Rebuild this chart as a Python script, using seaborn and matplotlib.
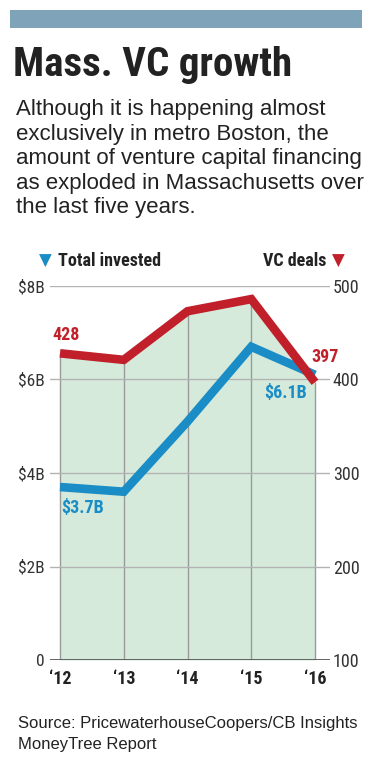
import matplotlib.pyplot as plt
import matplotlib.patches as mpatches
import seaborn as sns
import pandas as pd
import numpy as np

# data
years = ["\u201812", "\u201813", "\u201814", "\u201815", "\u201816"]
invested = [3.7, 3.6, 5.1, 6.7, 6.1]      # $B, left axis
deals = [428, 421, 473, 486, 397]         # count, right axis
left_ticks = [0, 2, 4, 6, 8]
left_labels = ["0", "$2B", "$4B", "$6B", "$8B"]
right_ticks = [100, 200, 300, 400, 500]

blue = "#1a8cc6"
red = "#c1202a"
dark = "#222222"
narrow = ["Roboto Condensed", "Fira Sans Condensed", "DejaVu Sans"]

sns.set_style("white")
plt.rcParams["font.family"] = ["Liberation Sans", "DejaVu Sans"]

W, H = 379, 768
fig = plt.figure(figsize=(W / 100, H / 100), dpi=100)


def box(x0, y0, x1, y1):
    return [x0 / W, 1 - y1 / H, (x1 - x0) / W, (y1 - y0) / H]


def fy(y):
    return 1 - y / H


# top bar
fig.add_artist(mpatches.Rectangle((10 / W, fy(28)), 352 / W, 18 / H,
                                  transform=fig.transFigure, color="#7fa3b8", lw=0))

fig.text(13 / W, fy(76), "Mass. VC growth", family=narrow, weight="bold",
         fontsize=29.5, color=dark, va="baseline")
sub = ["Although it is happening almost",
       "exclusively in metro Boston, the",
       "amount of venture capital financing",
       "as exploded in Massachusetts over",
       "the last five years."]
for i, line in enumerate(sub):
    fig.text(16 / W, fy(115 + i * 24.6), line, fontsize=16, color=dark, va="baseline")

# legend row
fig.text(45 / W, fy(266), "\u25bc", color=blue, fontsize=12, ha="center", va="baseline",
         family=["DejaVu Sans"])
fig.text(58 / W, fy(266), "Total invested", family=narrow, weight="bold",
         fontsize=13, color=dark, va="baseline")
fig.text(326 / W, fy(266), "VC deals", family=narrow, weight="bold",
         fontsize=13, color=dark, va="baseline", ha="right")
fig.text(338 / W, fy(266), "\u25bc", color=red, fontsize=12, ha="center", va="baseline",
         family=["DejaVu Sans"])

ax = fig.add_axes(box(50, 286, 330, 660))
ax2 = ax.twinx()

df = pd.DataFrame({"year": np.arange(len(years)), "invested": invested, "deals": deals})
# deals expressed in left-axis units (100..500 -> 0..8)
df["deals_left"] = (df["deals"] - 100) / 50

ax.fill_between(df["year"], 0, df["deals_left"], color="#d5eadb", lw=0, zorder=1)
ax.vlines(df["year"], 0, df["deals_left"], color="#9a9a9a", lw=1, zorder=1.5)
for t in left_ticks[1:]:
    ax.axhline(t, color="#b3b3b3", lw=1, zorder=2)
ax.axhline(0, color="#555555", lw=2, zorder=3)

sns.lineplot(data=df, x="year", y="invested", ax=ax, color=blue, lw=6.2, zorder=4)
sns.lineplot(data=df, x="year", y="deals_left", ax=ax, color=red, lw=6.2, zorder=5)
for ln in ax.lines[-2:]:
    ln.set_solid_joinstyle("miter")
    ln.set_solid_capstyle("butt")

step = 255 / 4
ax.set_xlim(-10 / step, 4 + 15 / step)
ax.set_ylim(0, 8)
ax2.set_ylim(100, 500)

ax.set_xticks(df["year"], years)
ax.set_yticks(left_ticks, left_labels)
ax2.set_yticks(right_ticks, [str(t) for t in right_ticks])
ax.set_xlabel("")
ax.set_ylabel("")
ax.tick_params(axis="x", length=0, pad=7, labelsize=13, labelcolor=dark)
ax.tick_params(axis="y", length=0, pad=4, labelsize=12.5, labelcolor="#333333")
ax2.tick_params(axis="y", length=0, pad=2, labelsize=13, labelcolor="#333333")
for lab in ax.get_xticklabels():
    lab.set_family(narrow)
    lab.set_weight("bold")
for lab in ax.get_yticklabels() + ax2.get_yticklabels():
    lab.set_family(narrow)
for a in (ax, ax2):
    for s in a.spines.values():
        s.set_visible(False)
ax.patch.set_visible(False)

# value labels
lab_kw = dict(textcoords="offset pixels", family=narrow, weight="bold",
              fontsize=13, ha="center", va="baseline")
ax.annotate(str(deals[0]), (0, df["deals_left"][0]), xytext=(6, 13), color=red, **lab_kw)
ax.annotate(str(deals[-1]), (4, df["deals_left"][4]), xytext=(10, 20), color=red, **lab_kw)
ax.annotate(f"${invested[-1]}B", (4, invested[-1]), xytext=(-29, -23), color=blue, **lab_kw)
ax.annotate(f"${invested[0]}B", (0, invested[0]), xytext=(23, -26), color=blue, **lab_kw)

fig.text(18 / W, fy(728), "Source: PricewaterhouseCoopers/CB Insights",
         fontsize=12, color=dark, va="baseline")
fig.text(18 / W, fy(749), "MoneyTree Report", fontsize=12, color=dark, va="baseline")

fig.savefig("out.png", dpi=100)
